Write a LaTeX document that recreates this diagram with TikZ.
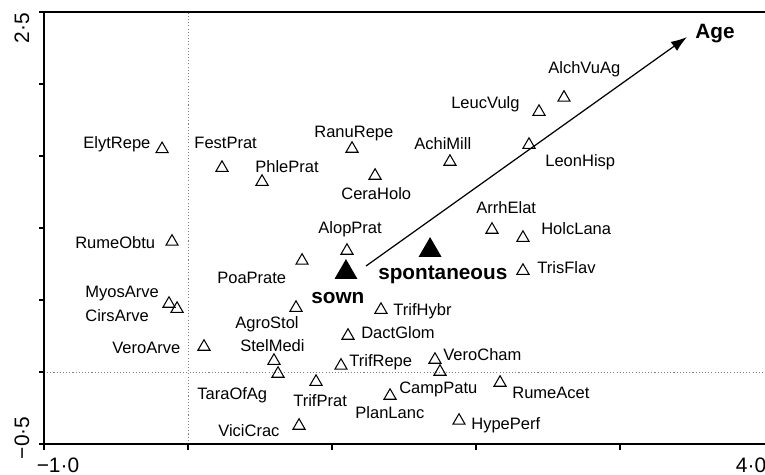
\documentclass[tikz,border=0pt]{standalone}
\usepackage{fontspec}
\setmainfont{Liberation Sans}
\usetikzlibrary{shapes.geometric,arrows.meta}

\begin{document}
\begin{tikzpicture}[x=2.88cm,y=2.88cm,
	sp/.style={draw,regular polygon,regular polygon sides=3,minimum size=0.28cm,inner sep=0pt,line width=0.6pt,yshift=-0.035cm},
	env/.style={fill,regular polygon,regular polygon sides=3,minimum size=0.53cm,inner sep=0pt,yshift=-0.066cm},
	lab/.style={anchor=west,inner sep=0pt,text height=0.716em,text depth=0pt,font=\fontsize{9.4}{11}\selectfont},
	big/.style={anchor=west,inner sep=0pt,text height=0.716em,text depth=0pt,font=\fontsize{11.8}{14}\selectfont\bfseries},
	ax/.style={inner sep=0pt,font=\fontsize{11.9}{14}\selectfont}
]
\useasboundingbox (-1.3056,-0.7153) rectangle (4.0069,2.5833);

% frame and zero lines
\draw[gray,line width=0.5pt,dash pattern=on 0.6pt off 1.2pt] (0,-0.5) -- (0,2.5);
\draw[gray,line width=0.5pt,dash pattern=on 0.6pt off 1.2pt] (-1,0) -- (4.007,0);
\draw[line width=0.6pt] (4.007,2.5) -- (-1,2.5) -- (-1,-0.5) -- (4.007,-0.5);
\foreach \y in {-0.5,0,...,2.5}{
	\draw[line width=0.6pt] (-1,\y) -- ++(-0.035,0);
}
\foreach \x in {-1,...,3}{
	\draw[line width=0.6pt] (\x,-0.5) -- ++(0,-0.04);
}

\node[ax,rotate=90] (y1) at (-1.153,2.389) {2·5};
\node[ax,rotate=90] (y0) at (-1.153,-0.458) {−0·5};
\node[ax] (x0) at (-0.903,-0.646) {−1·0};
\node[ax] (x1) at (3.910,-0.646) {4·0};

% species
\foreach \n/\x/\y in {
	ElytRepe/-0.18/1.56, FestPrat/0.236/1.43, PhlePrat/0.514/1.333,%
	RanuRepe/1.139/1.5625, CeraHolo/1.299/1.375, AchiMill/1.819/1.472,%
	LeucVulg/2.4375/1.819, AlchVuAg/2.611/1.917, LeonHisp/2.368/1.59,%
	ArrhElat/2.111/1.0, HolcLana/2.326/0.944, TrisFlav/2.326/0.715,%
	AlopPrat/1.104/0.854, PoaPrate/0.792/0.785, RumeObtu/-0.111/0.917,%
	MyosArve/-0.132/0.486, CirsArve/-0.076/0.451, VeroArve/0.111/0.1875,%
	AgroStol/0.75/0.458, StelMedi/0.597/0.09, TaraOfAg/0.625/0.0,%
	TrifPrat/0.889/-0.056, TrifRepe/1.0625/0.056, TrifHybr/1.34/0.444,%
	DactGlom/1.111/0.264, VeroCham/1.715/0.097, CampPatu/1.75/0.014,%
	PlanLanc/1.403/-0.153, RumeAcet/2.167/-0.0625, HypePerf/1.882/-0.326,%
	ViciCrac/0.771/-0.361%
}{
	\node[sp] (\n) at (\x,\y) {};
}

\foreach \n/\x/\y in {
	ElytRepe/-0.729/1.597, FestPrat/0.042/1.597, PhlePrat/0.465/1.431,%
	RanuRepe/0.875/1.674, CeraHolo/1.0625/1.243, AchiMill/1.569/1.59,%
	LeucVulg/1.826/1.875, AlchVuAg/2.5/2.118, LeonHisp/2.479/1.472,%
	ArrhElat/2.0/1.146, HolcLana/2.451/1.0, TrisFlav/2.424/0.729,%
	AlopPrat/0.903/1.007, PoaPrate/0.201/0.66, RumeObtu/-0.785/0.903,%
	MyosArve/-0.715/0.5625, CirsArve/-0.715/0.396, VeroArve/-0.528/0.174,%
	AgroStol/0.326/0.347, StelMedi/0.361/0.1875, TaraOfAg/0.0625/-0.146,%
	TrifPrat/0.729/-0.194, TrifRepe/1.118/0.083, TrifHybr/1.424/0.4375,%
	DactGlom/1.201/0.278, VeroCham/1.771/0.125, CampPatu/1.465/-0.104,%
	PlanLanc/1.16/-0.278, RumeAcet/2.25/-0.139, HypePerf/1.965/-0.354,%
	ViciCrac/0.208/-0.403%
}{
	\node[lab] (l\n) at (\x,\y) {\n};
}

% nominal variables
\node[env] (sown) at (1.097,0.715) {};
\node[env] (spont) at (1.681,0.868) {};
\node[big] (lsown) at (0.854,0.521) {sown};
\node[big] (lspont) at (1.319,0.6875) {spontaneous};

% age vector
\coordinate (agetail) at (1.236,0.736);
\coordinate (agehead) at (3.465,2.326);
\draw[line width=0.7pt,-{Latex[length=0.32cm,width=0.22cm]}] (agetail) -- (agehead);
\node[big] (age) at (3.521,2.361) {Age};

\end{tikzpicture}
\end{document}
